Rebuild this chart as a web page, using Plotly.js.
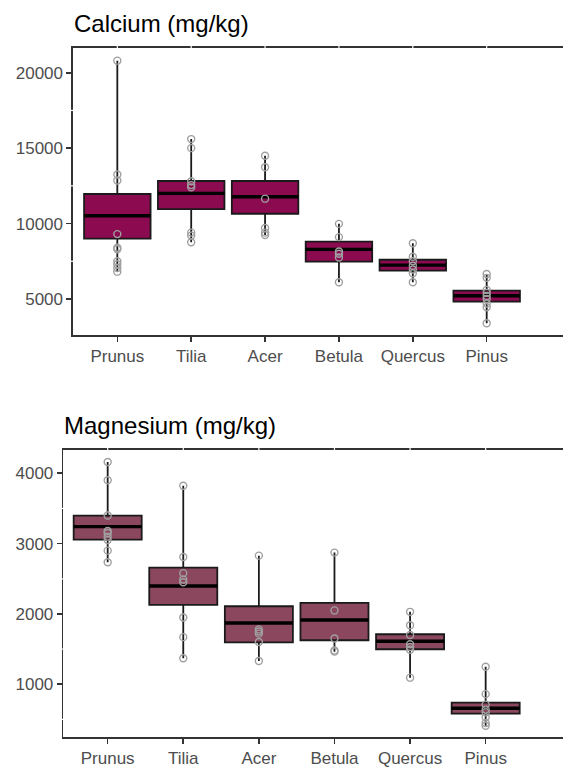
<!DOCTYPE html>
<html>
<head>
<meta charset="utf-8">
<script src="https://cdn.plot.ly/plotly-3.0.1.min.js"></script>
<style>html,body{margin:0;padding:0;background:#fff;}#chart{width:563px;height:767px;}</style>
</head>
<body>
<div id="chart"></div>
<script>
// Categories
const species = ["Prunus", "Tilia", "Acer", "Betula", "Quercus", "Pinus"];

// Calcium (mg/kg) box summaries
const caQ1  = [9000, 10950, 10650, 7470, 6880, 4820];
const caMed = [10520, 12000, 11780, 8290, 7240, 5210];
const caQ3  = [11960, 12820, 12820, 8800, 7600, 5550];
const caLo  = [6810, 8760, 9240, 6110, 6110, 3390];
const caHi  = [20800, 15600, 14500, 9980, 8690, 6650];
// Calcium individual samples
const caPts = [
  [20800, 13250, 12850, 9300, 8400, 8300, 7500, 7300, 7050, 6810],
  [15600, 15000, 12800, 12550, 12400, 9400, 9200, 8760],
  [14500, 13730, 11650, 9700, 9400, 9240],
  [9980, 9100, 8150, 8000, 7750, 6110],
  [8690, 7800, 7500, 7200, 6950, 6700, 6110],
  [6650, 6400, 5600, 5400, 5200, 5000, 4700, 4450, 3390]
];

// Magnesium (mg/kg) box summaries
const mgQ1  = [3056, 2128, 1597, 1626, 1498, 582];
const mgMed = [3241, 2398, 1872, 1914, 1611, 659];
const mgQ3  = [3398, 2658, 2109, 2156, 1711, 738];
const mgLo  = [2735, 1370, 1331, 1464, 1094, 411];
const mgHi  = [4160, 3822, 2829, 2872, 2030, 1250];
// Magnesium individual samples
const mgPts = [
  [4160, 3900, 3400, 3180, 3150, 3100, 3050, 2900, 2735],
  [3822, 2810, 2580, 2490, 2450, 1950, 1670, 1370],
  [2829, 1780, 1750, 1720, 1600, 1331],
  [2872, 2050, 1650, 1480, 1464],
  [2030, 1840, 1700, 1570, 1530, 1490, 1094],
  [1250, 860, 710, 640, 600, 530, 450, 411]
];

const caTicks = [5000, 10000, 15000, 20000];
const caMinor = [7500, 12500, 17500];
const mgTicks = [1000, 2000, 3000, 4000];
const mgMinor = [500, 1500, 2500, 3500];

const FONT = "Arial, 'Liberation Sans', sans-serif";
const pos = species.map((_, i) => i);

function boxTraces(q1, med, q3, lo, hi, pts, fill, xa, ya) {
  const main = {
    type: "box", x: pos, q1: q1, median: med, q3: q3,
    lowerfence: lo, upperfence: hi,
    width: 0.9, whiskerwidth: 0, boxpoints: false,
    fillcolor: fill, line: {color: "#1a1a1a", width: 1.8},
    xaxis: xa, yaxis: ya, hoverinfo: "skip", showlegend: false
  };
  const medLine = {
    type: "box", x: pos, q1: med, median: med, q3: med,
    lowerfence: med, upperfence: med,
    width: 0.9, whiskerwidth: 0, boxpoints: false,
    fillcolor: "rgba(0,0,0,0)", line: {color: "#000", width: 3.4},
    xaxis: xa, yaxis: ya, hoverinfo: "skip", showlegend: false
  };
  const px = [], py = [];
  pts.forEach((arr, i) => arr.forEach(v => { px.push(i); py.push(v); }));
  const scat = {
    type: "scatter", mode: "markers", x: px, y: py,
    marker: {symbol: "circle-open", size: 7, color: "#A0A0A0", line: {width: 1.4, color: "#A0A0A0"}},
    xaxis: xa, yaxis: ya, hoverinfo: "skip", showlegend: false
  };
  return [main, medLine, scat];
}

const data = [].concat(
  boxTraces(caQ1, caMed, caQ3, caLo, caHi, caPts, "#8B0A50", "x", "y"),
  boxTraces(mgQ1, mgMed, mgQ3, mgLo, mgHi, mgPts, "#8B475D", "x2", "y2")
);

const axisCommon = {
  showline: true, linecolor: "#333333", linewidth: 1.6,
  ticks: "outside", ticklen: 5, tickwidth: 1.6, tickcolor: "#333333",
  showgrid: false, zeroline: false, tickformat: "d",
  tickfont: {family: FONT, size: 17, color: "#4D4D4D"}
};

function gapShapes(xref, yref, minors) {
  const s = [];
  // small white breaks in the top border at category positions
  pos.forEach(i => s.push({type: "line", xref: xref, yref: yref + " domain",
    x0: i, x1: i, y0: 0.985, y1: 1.015, line: {color: "#fff", width: 1.2}, layer: "above"}));
  // small white breaks in the left axis at minor positions
  minors.forEach(v => s.push({type: "line", xref: xref + " domain", yref: yref,
    x0: -0.008, x1: 0.008, y0: v, y1: v, line: {color: "#fff", width: 1.2}, layer: "above"}));
  return s;
}

const layout = {
  width: 563, height: 767,
  margin: {l: 0, r: 0, t: 0, b: 0},
  paper_bgcolor: "#fff", plot_bgcolor: "#fff",
  boxmode: "overlay",
  showlegend: false,
  xaxis: Object.assign({}, axisCommon, {
    domain: [73 / 563, 1], range: [-0.6, 6.033], mirror: true,
    tickvals: pos, ticktext: species, anchor: "y"
  }),
  yaxis: Object.assign({}, axisCommon, {
    domain: [1 - 335 / 767, 1 - 48 / 767], range: [2610, 21640],
    tickvals: caTicks, anchor: "x"
  }),
  xaxis2: Object.assign({}, axisCommon, {
    domain: [63.3 / 563, 1], range: [-0.587, 6.023], mirror: true,
    tickvals: pos, ticktext: species, anchor: "y2"
  }),
  yaxis2: Object.assign({}, axisCommon, {
    domain: [1 - 737.3 / 767, 1 - 450 / 767], range: [246, 4331],
    tickvals: mgTicks, anchor: "x2"
  }),
  annotations: [
    {text: "Calcium (mg/kg)", xref: "paper", yref: "paper", x: 72 / 563, y: 1 - 23.5 / 767,
     xanchor: "left", yanchor: "middle", showarrow: false,
     font: {family: FONT, size: 24, color: "#000"}},
    {text: "Magnesium (mg/kg)", xref: "paper", yref: "paper", x: 62.3 / 563, y: 1 - 425.5 / 767,
     xanchor: "left", yanchor: "middle", showarrow: false,
     font: {family: FONT, size: 24, color: "#000"}}
  ],
  shapes: [].concat(
    gapShapes("x", "y", caMinor),
    gapShapes("x2", "y2", mgMinor)
  )
};

Plotly.newPlot("chart", data, layout, {staticPlot: true, displayModeBar: false});
</script>
</body>
</html>
